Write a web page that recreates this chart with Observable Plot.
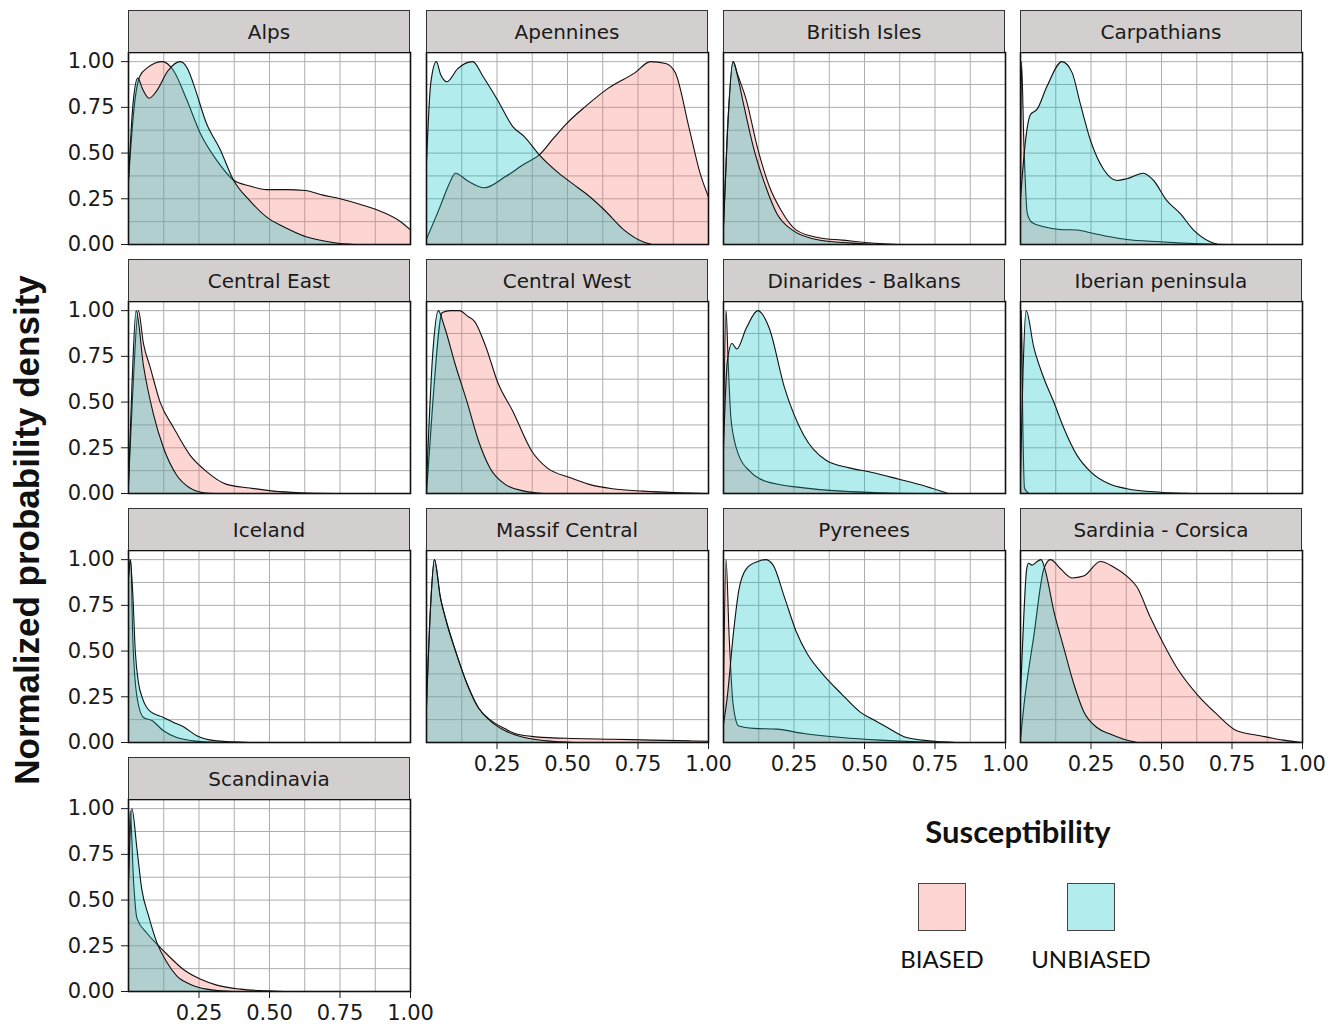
<!DOCTYPE html>
<html><head><meta charset="utf-8">
<script src="https://cdn.jsdelivr.net/npm/d3@7"></script>
<script src="https://cdn.jsdelivr.net/npm/@observablehq/plot@0.6"></script>
<style>
body{margin:0;background:#fff;}
#root{position:relative;width:1342px;height:1026px;overflow:hidden;background:#fff;}
.strip{position:absolute;box-sizing:border-box;background:#d3cfcf;border:1px solid #333;border-bottom:none;font:20px "DejaVu Sans",sans-serif;color:#1a1a1a;display:flex;align-items:center;justify-content:center;}
.panel{position:absolute;}
.ytitle{position:absolute;left:27px;top:530px;transform:translate(-50%,-50%) rotate(-90deg);white-space:nowrap;font:bold 35px "Liberation Sans",Arial,sans-serif;color:#111;}
.ltitle{position:absolute;left:1018px;top:831px;transform:translate(-50%,-50%);white-space:nowrap;font:bold 31px Lato,sans-serif;color:#111;}
.lkey{position:absolute;top:883px;width:48px;height:48px;box-sizing:border-box;border:1px solid #444;}
.llab{position:absolute;top:958px;transform:translate(-50%,-50%);white-space:nowrap;font:24px Lato,sans-serif;color:#111;}
</style></head>
<body><div id="root"></div>
<script>
// ---- data ----
const regions = ["Alps","Apennines","British Isles","Carpathians","Central East","Central West","Dinarides - Balkans","Iberian peninsula","Iceland","Massif Central","Pyrenees","Sardinia - Corsica","Scandinavia"];
const groups = ["BIASED","UNBIASED"];
const groupColors = ["#F8766D","#00BFC4"];
const yTicks = [0,0.25,0.5,0.75,1];
const xTicks = [0.25,0.5,0.75,1];
const gridX = [0.125,0.25,0.375,0.5,0.625,0.75,0.875];
const gridY = [0.125,0.25,0.375,0.5,0.625,0.75,0.875,1];

const alpsBiased = [[0,0.35],[0.02,0.75],[0.04,0.92],[0.07,0.97],[0.12,1.0],[0.16,0.95],[0.207,0.79],[0.254,0.61],[0.313,0.46],[0.372,0.353],[0.43,0.32],[0.49,0.30],[0.56,0.30],[0.626,0.295],[0.69,0.27],[0.75,0.25],[0.82,0.22],[0.88,0.19],[0.96,0.13],[1,0.08]];
const alpsUnbiased = [[0,0.35],[0.015,0.75],[0.033,0.91],[0.05,0.85],[0.073,0.80],[0.1,0.84],[0.14,0.95],[0.184,1.0],[0.21,0.96],[0.23,0.88],[0.277,0.66],[0.325,0.52],[0.372,0.353],[0.43,0.24],[0.49,0.15],[0.55,0.097],[0.63,0.042],[0.73,0.01],[0.8,0]];
const apenninesBiased = [[0,0.03],[0.049,0.21],[0.08,0.33],[0.103,0.39],[0.144,0.35],[0.205,0.31],[0.279,0.37],[0.347,0.44],[0.40,0.49],[0.45,0.58],[0.496,0.66],[0.564,0.755],[0.645,0.855],[0.74,0.94],[0.794,1.0],[0.848,0.99],[0.882,0.94],[0.93,0.645],[0.97,0.39],[1,0.26]];
const apenninesUnbiased = [[0,0.45],[0.015,0.88],[0.035,1.0],[0.05,0.93],[0.073,0.89],[0.11,0.96],[0.164,1.0],[0.2,0.92],[0.252,0.79],[0.306,0.645],[0.347,0.59],[0.40,0.49],[0.469,0.39],[0.52,0.33],[0.564,0.28],[0.63,0.19],[0.70,0.08],[0.767,0.015],[0.8,0]];
const britishBiased = [[0,0.1],[0.0135,0.6],[0.034,1.0],[0.05,0.93],[0.081,0.79],[0.122,0.52],[0.162,0.32],[0.203,0.19],[0.257,0.08],[0.338,0.037],[0.42,0.024],[0.554,0.005],[0.62,0]];
const britishUnbiased = [[0,0.1],[0.0135,0.6],[0.034,1.0],[0.05,0.92],[0.068,0.79],[0.108,0.52],[0.149,0.32],[0.189,0.17],[0.243,0.08],[0.338,0.025],[0.486,0.005],[0.55,0]];
const carpathiansBiased = [[0,0.2],[0.0035,1.0],[0.012,0.55],[0.024,0.17],[0.041,0.12],[0.083,0.097],[0.14,0.082],[0.2,0.079],[0.26,0.06],[0.318,0.042],[0.377,0.027],[0.495,0.015],[0.613,0.005],[0.73,0]];
const carpathiansUnbiased = [[0,0.25],[0.018,0.57],[0.035,0.71],[0.059,0.74],[0.094,0.865],[0.147,1.0],[0.183,0.94],[0.212,0.77],[0.248,0.57],[0.295,0.41],[0.342,0.35],[0.377,0.36],[0.436,0.39],[0.472,0.35],[0.519,0.24],[0.566,0.17],[0.613,0.08],[0.672,0.015],[0.7,0]];
const centralEastBiased = [[0,0.05],[0.015,0.55],[0.035,1.0],[0.053,0.82],[0.077,0.69],[0.112,0.50],[0.16,0.36],[0.218,0.21],[0.277,0.12],[0.348,0.05],[0.43,0.03],[0.514,0.013],[0.608,0.004],[0.73,0]];
const centralEastUnbiased = [[0,0.05],[0.012,0.58],[0.027,1.0],[0.053,0.70],[0.089,0.43],[0.124,0.25],[0.171,0.10],[0.218,0.03],[0.266,0.004],[0.31,0]];
const centralWestBiased = [[0,0],[0.022,0.49],[0.056,0.99],[0.085,1.0],[0.117,1.0],[0.145,0.97],[0.171,0.94],[0.211,0.80],[0.252,0.61],[0.306,0.45],[0.374,0.23],[0.428,0.14],[0.51,0.086],[0.577,0.05],[0.659,0.026],[0.767,0.013],[0.9,0.004],[1,0]];
const centralWestUnbiased = [[0,0.05],[0.022,0.76],[0.042,1.0],[0.062,0.92],[0.103,0.70],[0.144,0.50],[0.184,0.29],[0.225,0.14],[0.279,0.05],[0.347,0.013],[0.415,0]];
const dinaridesBiased = [[0,0.3],[0.009,1.0],[0.017,0.7],[0.027,0.40],[0.054,0.21],[0.095,0.12],[0.149,0.067],[0.284,0.031],[0.419,0.013],[0.554,0.004],[0.69,0]];
const dinaridesUnbiased = [[0,0.25],[0.0135,0.72],[0.03,0.82],[0.047,0.79],[0.081,0.905],[0.122,1.0],[0.162,0.905],[0.216,0.58],[0.284,0.32],[0.365,0.18],[0.446,0.14],[0.527,0.115],[0.622,0.078],[0.716,0.04],[0.797,0]];
const iberianBiased = [[0,0.5],[0.003,1.0],[0.008,0.4],[0.014,0.03],[0.03,0]];
const iberianUnbiased = [[0,0.1],[0.009,0.67],[0.02,1.0],[0.047,0.80],[0.083,0.63],[0.118,0.50],[0.153,0.36],[0.2,0.21],[0.248,0.12],[0.318,0.05],[0.377,0.026],[0.495,0.007],[0.613,0]];
const icelandBiased = [[0,0.9],[0.008,1.0],[0.015,0.58],[0.03,0.25],[0.053,0.137],[0.083,0.12],[0.124,0.064],[0.171,0.027],[0.23,0.009],[0.313,0]];
const icelandUnbiased = [[0,0.9],[0.006,1.0],[0.015,0.82],[0.024,0.5],[0.035,0.33],[0.05,0.24],[0.077,0.17],[0.124,0.137],[0.16,0.11],[0.195,0.086],[0.242,0.037],[0.313,0.009],[0.43,0]];
const massifBiased = [[0,0.2],[0.015,0.76],[0.028,1.0],[0.049,0.795],[0.069,0.67],[0.103,0.50],[0.144,0.32],[0.184,0.19],[0.225,0.125],[0.279,0.075],[0.32,0.046],[0.387,0.031],[0.523,0.022],[0.659,0.018],[0.794,0.013],[0.93,0.009],[1,0.007]];
const massifUnbiased = [[0,0.2],[0.015,0.76],[0.028,1.0],[0.049,0.795],[0.069,0.67],[0.103,0.50],[0.144,0.32],[0.184,0.19],[0.225,0.12],[0.279,0.064],[0.347,0.027],[0.428,0.009],[0.523,0]];
const pyreneesBiased = [[0,0.3],[0.009,1.0],[0.02,0.58],[0.034,0.21],[0.054,0.09],[0.108,0.077],[0.189,0.073],[0.284,0.049],[0.419,0.027],[0.554,0.013],[0.69,0.004],[0.824,0]];
const pyreneesUnbiased = [[0,0.1],[0.0135,0.25],[0.034,0.58],[0.054,0.83],[0.081,0.95],[0.122,0.99],[0.149,1.0],[0.176,0.97],[0.216,0.795],[0.257,0.61],[0.297,0.485],[0.351,0.375],[0.419,0.265],[0.486,0.165],[0.527,0.128],[0.581,0.082],[0.649,0.027],[0.73,0.009],[0.824,0]];
const sardiniaBiased = [[0,0.02],[0.012,0.2],[0.047,0.58],[0.083,0.95],[0.106,1.0],[0.142,0.95],[0.183,0.90],[0.224,0.91],[0.283,0.99],[0.33,0.96],[0.377,0.91],[0.413,0.85],[0.46,0.686],[0.507,0.54],[0.554,0.41],[0.625,0.265],[0.696,0.155],[0.767,0.064],[0.85,0.037],[0.932,0.013],[1,0]];
const sardiniaUnbiased = [[0,0.27],[0.012,0.7],[0.022,0.95],[0.029,0.98],[0.041,0.97],[0.059,0.99],[0.073,1.0],[0.088,0.94],[0.118,0.72],[0.153,0.52],[0.189,0.32],[0.224,0.17],[0.271,0.082],[0.318,0.046],[0.366,0.018],[0.413,0]];
const scandinaviaBiased = [[0,0.6],[0.006,0.99],[0.018,0.60],[0.03,0.40],[0.065,0.32],[0.1,0.26],[0.148,0.186],[0.195,0.12],[0.254,0.068],[0.313,0.035],[0.396,0.013],[0.49,0.004],[0.55,0]];
const scandinaviaUnbiased = [[0,0.6],[0.012,1.0],[0.03,0.78],[0.047,0.56],[0.071,0.415],[0.1,0.27],[0.136,0.16],[0.171,0.086],[0.218,0.04],[0.277,0.013],[0.37,0]];

const seriesByRegion = [
  [alpsBiased, alpsUnbiased],
  [apenninesBiased, apenninesUnbiased],
  [britishBiased, britishUnbiased],
  [carpathiansBiased, carpathiansUnbiased],
  [centralEastBiased, centralEastUnbiased],
  [centralWestBiased, centralWestUnbiased],
  [dinaridesBiased, dinaridesUnbiased],
  [iberianBiased, iberianUnbiased],
  [icelandBiased, icelandUnbiased],
  [massifBiased, massifUnbiased],
  [pyreneesBiased, pyreneesUnbiased],
  [sardiniaBiased, sardiniaUnbiased],
  [scandinaviaBiased, scandinaviaUnbiased]
];

// tidy table
const rows = [];
regions.forEach((r, i) => groups.forEach((g, j) => seriesByRegion[i][j].forEach(([x, y]) => rows.push({region: r, group: g, x, y}))));

// ---- layout ----
const root = document.getElementById("root");
const colLeft = [128, 426, 723, 1020];
const plotTop = [52, 301, 550, 799];
const plotW = 282, plotH = 192, stripH = 42;
const mL = 75, mR = 32, mT = 2, mB = 40;
const fmt = d => d.toFixed(2);

regions.forEach((r, i) => {
  const col = i % 4, row = Math.floor(i / 4);
  const isBottom = row === 3 || (row === 2 && col > 0);
  const showY = col === 0;
  const data = rows.filter(d => d.region === r);
  const marks = [
    Plot.ruleX(gridX, {stroke: "#adadad", strokeWidth: 1}),
    Plot.ruleY(gridY, {stroke: "#adadad", strokeWidth: 1})
  ];
  groups.forEach((g, j) => {
    const gd = data.filter(d => d.group === g);
    marks.push(Plot.areaY(gd, {x: "x", y: "y", fill: groupColors[j], fillOpacity: 0.3, curve: "monotone-x", clip: true}));
    marks.push(Plot.lineY(gd, {x: "x", y: "y", stroke: "#111", strokeWidth: 1.1, curve: "monotone-x", clip: true}));
  });
  marks.push(Plot.frame({stroke: "#111", strokeWidth: 1.6}));
  const chart = Plot.plot({
    width: plotW + mL + mR,
    height: plotH + mT + mB,
    marginLeft: mL, marginRight: mR, marginTop: mT, marginBottom: mB,
    style: {background: "transparent", fontSize: "21px", fontFamily: "'DejaVu Sans', sans-serif", color: "#1a1a1a", overflow: "visible"},
    x: {domain: [0, 1], axis: isBottom ? "bottom" : null, ticks: xTicks, tickFormat: fmt, tickSize: 7, tickPadding: 7, label: null},
    y: {domain: [0, 1.05], axis: showY ? "left" : null, ticks: yTicks, tickFormat: fmt, tickSize: 7, tickPadding: 7, label: null},
    marks
  });
  const wrap = document.createElement("div");
  wrap.className = "panel";
  wrap.style.left = (colLeft[col] - mL) + "px";
  wrap.style.top = (plotTop[row] - mT) + "px";
  wrap.appendChild(chart);
  root.appendChild(wrap);

  const strip = document.createElement("div");
  strip.className = "strip";
  strip.style.left = colLeft[col] + "px";
  strip.style.top = (plotTop[row] - stripH) + "px";
  strip.style.width = plotW + "px";
  strip.style.height = stripH + "px";
  strip.textContent = r;
  root.appendChild(strip);
});

// axis title
const yt = document.createElement("div");
yt.className = "ytitle";
yt.textContent = "Normalized probability density";
root.appendChild(yt);

// legend
const lt = document.createElement("div");
lt.className = "ltitle";
lt.textContent = "Susceptibility";
root.appendChild(lt);
const keyLeft = [918, 1067];
const keyFill = ["rgb(253,214,211)", "rgb(178,236,237)"];
groups.forEach((g, j) => {
  const k = document.createElement("div");
  k.className = "lkey";
  k.style.left = keyLeft[j] + "px";
  k.style.background = keyFill[j];
  root.appendChild(k);
  const l = document.createElement("div");
  l.className = "llab";
  l.style.left = (keyLeft[j] + 24) + "px";
  l.textContent = g;
  root.appendChild(l);
});
</script>
</body></html>
